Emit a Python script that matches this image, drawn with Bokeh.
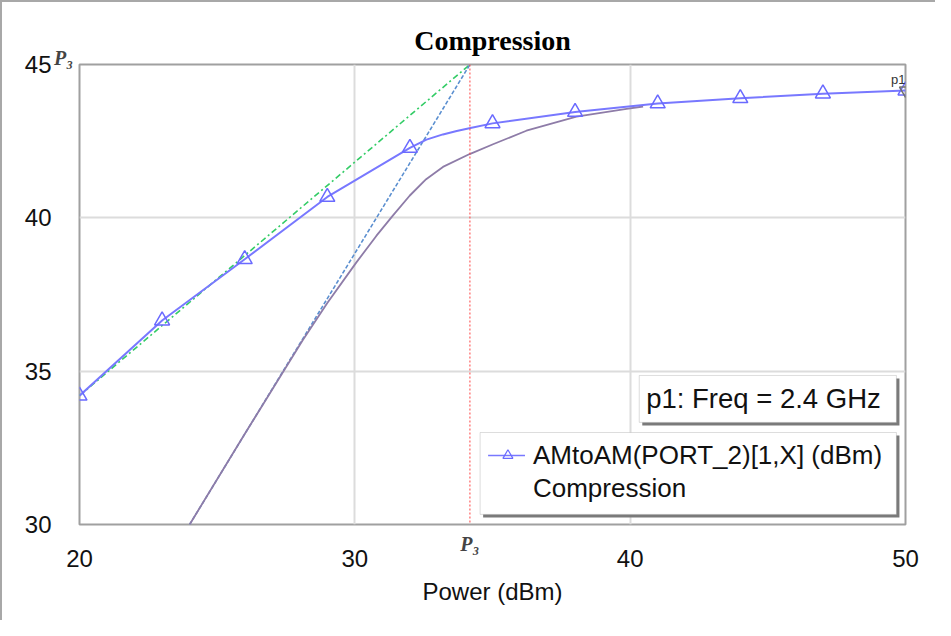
from bokeh.plotting import figure
from bokeh.models import FixedTicker, Span, BoxAnnotation, Label, Range1d
from bokeh.embed import file_html
from bokeh.resources import INLINE

# ---- data ----
power = [20, 23, 26, 29, 32, 35, 38, 41, 44, 47, 50]
amtoam = [34.2, 36.65, 38.65, 40.68, 42.28, 43.08, 43.45, 43.73, 43.9, 44.05, 44.15]

amtoam_trace_x = [20, 23, 26, 29, 32, 32.6, 33.2, 33.7, 34.2, 35, 38, 41, 44, 47, 50]
amtoam_trace_y = [34.2, 36.65, 38.65, 40.68, 42.28, 42.55, 42.72, 42.83, 42.93, 43.08, 43.45, 43.73, 43.9, 44.05, 44.15]

comp_x = [24.0, 26, 27, 28.1, 29, 30.05, 30.78, 31.38, 31.99, 32.59, 33.2, 34.17, 35.02, 36.23, 38.05, 39.87, 40.47]
comp_y = [30.0, 32.95, 34.4, 36.0, 37.22, 38.54, 39.41, 40.07, 40.72, 41.26, 41.66, 42.08, 42.4, 42.84, 43.3, 43.55, 43.63]

p3_x = 34.18
p3_y = 45.0
lin_ext_x = [20, p3_x]
lin_ext_y = [34.2, p3_y]
comp_ext_x = [24.0, p3_x]
comp_ext_y = [30.0, p3_y]

marker_x = [50]
marker_y = [44.15]

x_ticks = [20, 30, 40, 50]
y_ticks = [30, 35, 40, 45]

SANS = "Liberation Sans"
SERIF = "Liberation Serif"

p = figure(width=935, height=620, x_range=Range1d(20, 50), y_range=Range1d(30, 45),
           output_backend="svg", toolbar_location=None, title="Compression",
           min_border_left=79, min_border_right=30, min_border_top=64, min_border_bottom=96)

p.border_fill_color = None
p.background_fill_color = "white"
p.styles = {"box-shadow": "inset 2px 2px 0 0 #a8a8a8"}

p.title.text_font = SERIF
p.title.text_font_style = "bold"
p.title.text_font_size = "28px"
p.title.align = "center"
p.title.standoff = 17
p.title.text_color = "black"

p.outline_line_color = "#a0a0a0"
p.outline_line_width = 2

p.xaxis.ticker = FixedTicker(ticks=x_ticks)
p.yaxis.ticker = FixedTicker(ticks=y_ticks)
for ax in (p.xaxis, p.yaxis):
    ax.axis_line_color = None
    ax.major_tick_line_color = None
    ax.minor_tick_line_color = None
    ax.major_tick_out = 0
    ax.major_tick_in = 0
    ax.minor_tick_out = 0
    ax.minor_tick_in = 0
    ax.major_label_text_font = SANS
    ax.major_label_text_font_size = "24px"
    ax.major_label_text_color = "#111111"
p.yaxis.major_label_standoff = 28
p.xaxis.major_label_standoff = 25
p.xaxis.axis_label = "Power (dBm)"
p.xaxis.axis_label_text_font = SANS
p.xaxis.axis_label_text_font_size = "24px"
p.xaxis.axis_label_text_font_style = "normal"
p.xaxis.axis_label_text_color = "#111111"
p.xaxis.axis_label_standoff = 8

p.grid.grid_line_color = "#dcdcdc"
p.grid.grid_line_width = 2

# P3 vertical marker line
p.add_layout(Span(location=p3_x, dimension="height", line_color="#ff4040",
                  line_dash="2 2", line_width=1))

# extrapolation lines
p.line(lin_ext_x, lin_ext_y, line_color="#33cc66", line_width=1.6, line_dash="6 3 2 3")
p.line(comp_ext_x, comp_ext_y, line_color="#5b8fd0", line_width=1.6, line_dash="4 2")

# compression curve
p.line(comp_x, comp_y, line_color="#8e7ca8", line_width=1.8)

# AMtoAM
p.line(amtoam_trace_x, amtoam_trace_y, line_color="#7878ff", line_width=2)
p.scatter(power, amtoam, marker="triangle", size=15, line_color="#6a6aff",
          line_width=1.5, fill_color=None)

# p1 marker
p.scatter(marker_x, marker_y, marker="inverted_triangle", size=12, line_color="#707070",
          line_width=1.5, fill_color=None)
p.add_layout(Label(x=50, y=44.52, text="p1", text_font=SANS, text_font_size="13px",
                   text_color="#333333", text_align="right", text_baseline="middle"))

# P3 labels (placed in side panels so that they are not clipped to the frame)
p.add_layout(Label(x=p3_x, y=29.35, text="P₃", text_font=SERIF, text_font_size="20px",
                   text_font_style="bold italic", text_align="center", text_baseline="middle"),
             "right")
p.add_layout(Label(x=19.42, y=45.2, text="P₃", text_font=SERIF, text_font_size="20px",
                   text_font_style="bold italic", text_align="center", text_baseline="middle"),
             "left")

# p1 info box
p.add_layout(BoxAnnotation(left=40.44, right=49.78, top=34.76, bottom=33.23,
                           fill_color="#7a7a7a", fill_alpha=1, line_color=None))
p.add_layout(BoxAnnotation(left=40.33, right=49.67, top=34.86, bottom=33.33,
                           fill_color="white", fill_alpha=1, line_color="#909090", line_width=1))
p.add_layout(Label(x=40.58, y=34.11, text="p1: Freq = 2.4 GHz", text_font=SANS,
                   text_font_size="27.5px", text_color="#111111", text_baseline="middle"))

# legend box
p.add_layout(BoxAnnotation(left=34.66, right=49.78, top=32.9, bottom=30.23,
                           fill_color="#7a7a7a", fill_alpha=1, line_color=None))
p.add_layout(BoxAnnotation(left=34.55, right=49.67, top=33.0, bottom=30.33,
                           fill_color="white", fill_alpha=1, line_color="#909090", line_width=1))
p.line([34.84, 36.18], [32.25, 32.25], line_color="#7878ff", line_width=1.5, level="overlay")
p.scatter([35.56], [32.25], marker="triangle", size=10, line_color="#6a6aff",
          line_width=1.2, fill_color=None, level="overlay")
p.add_layout(Label(x=36.47, y=32.28, text="AMtoAM(PORT_2)[1,X] (dBm)", text_font=SANS,
                   text_font_size="26px", text_color="#111111", text_baseline="middle"))
p.add_layout(Label(x=36.47, y=31.18, text="Compression", text_font=SANS,
                   text_font_size="26px", text_color="#111111", text_baseline="middle"))

open("out.html", "w").write(file_html(p, INLINE))
